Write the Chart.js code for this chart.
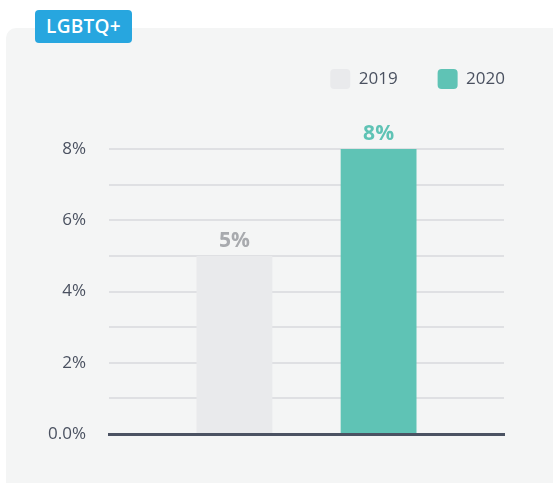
<!DOCTYPE html>
<html>
<head>
<meta charset="utf-8">
<script src="https://cdn.jsdelivr.net/npm/chart.js@4"></script>
<style>
  body { margin: 0; background: #fff; font-family: "Open Sans", sans-serif; }
  .wrap { position: relative; width: 553px; height: 483px; overflow: hidden; }
  .panel { position: absolute; left: 6px; top: 28px; width: 570px; height: 500px; background: #f4f5f5; border-radius: 10px; }
  .badge { position: absolute; left: 35px; top: 10px; width: 97px; height: 33px; background: #27a6df; border-radius: 4px;
    color: #fff; font: 600 19px "Open Sans", sans-serif; line-height: 33px; text-align: center; letter-spacing: 0.3px; }
  canvas { position: absolute; left: 0; top: 0; }
</style>
</head>
<body>
<div class="wrap">
  <div class="panel"></div>
  <div class="badge">LGBTQ+</div>
  <canvas id="BarChart" width="553" height="483"></canvas>
</div>
<script>
const categories = [""];
const seriesNames = ["2019", "2020"];
const values2019 = [5];
const values2020 = [8];
const yTicks = [0, 2, 4, 6, 8];

const barColors = ["#e9eaec", "#5fc3b5"];
const labelColors = ["#a8aaae", "#5fc3b5"];

// push the plot area down below the legend
const legendSpace = {
  id: "legendSpace",
  beforeInit(chart) {
    const fit = chart.legend.fit;
    chart.legend.fit = function () {
      fit.bind(chart.legend)();
      this.height += 50;
    };
  },
};

// value labels above the bars
const valueLabels = {
  id: "valueLabels",
  afterDatasetsDraw(chart) {
    const ctx = chart.ctx;
    ctx.save();
    ctx.font = "bold 21px 'Open Sans'";
    ctx.textAlign = "center";
    ctx.textBaseline = "alphabetic";
    chart.data.datasets.forEach((ds, i) => {
      chart.getDatasetMeta(i).data.forEach((bar, j) => {
        ctx.fillStyle = labelColors[i];
        ctx.fillText(ds.data[j] + "%", bar.x, bar.y - 9);
      });
    });
    ctx.restore();
  },
};

var ctx = document.getElementById("BarChart").getContext("2d");
var chart = new Chart(ctx, {
  type: "bar",
  data: {
    labels: categories,
    datasets: [
      { label: seriesNames[0], data: values2019, backgroundColor: barColors[0] },
      { label: seriesNames[1], data: values2020, backgroundColor: barColors[1] },
    ],
  },
  options: {
    responsive: false,
    animation: false,
    categoryPercentage: 0.73,
    barPercentage: 0.526,
    layout: { padding: { left: 39, right: 8, top: 29, bottom: 49 } },
    plugins: {
      tooltip: { enabled: false },
      legend: {
        position: "top",
        align: "end",
        labels: {
          boxWidth: 20,
          boxHeight: 20,
          useBorderRadius: true,
          borderRadius: 4,
          padding: 40,
          color: "#4a5160",
          font: { family: "'Open Sans'", size: 17 },
        },
      },
    },
    scales: {
      x: {
        ticks: { display: false },
        grid: { display: false, drawTicks: false },
        border: { color: "#4b5262", width: 3 },
        afterFit: (s) => { s.height = 0; },
      },
      y: {
        min: 0,
        max: 8,
        border: { display: false },
        grid: {
          drawTicks: false,
          lineWidth: 2,
          color: (c) => (c.tick && c.tick.value === 0 ? "transparent" : "#dfe0e3"),
        },
        ticks: {
          stepSize: 1,
          padding: 23,
          color: "#4a5160",
          font: { family: "'Open Sans'", size: 17 },
          callback: (v) => (v === 0 ? "0.0%" : yTicks.includes(v) ? v + "%" : ""),
        },
        afterFit: (s) => { s.width = 70; },
      },
      // empty right-hand axis, keeps the plot clear of the legend's right edge
      yRight: {
        position: "right",
        min: 0,
        max: 8,
        ticks: { display: false },
        grid: { display: false, drawTicks: false },
        border: { display: false },
        afterFit: (s) => { s.width = 41; },
      },
    },
  },
  plugins: [legendSpace, valueLabels],
});
</script>
</body>
</html>
